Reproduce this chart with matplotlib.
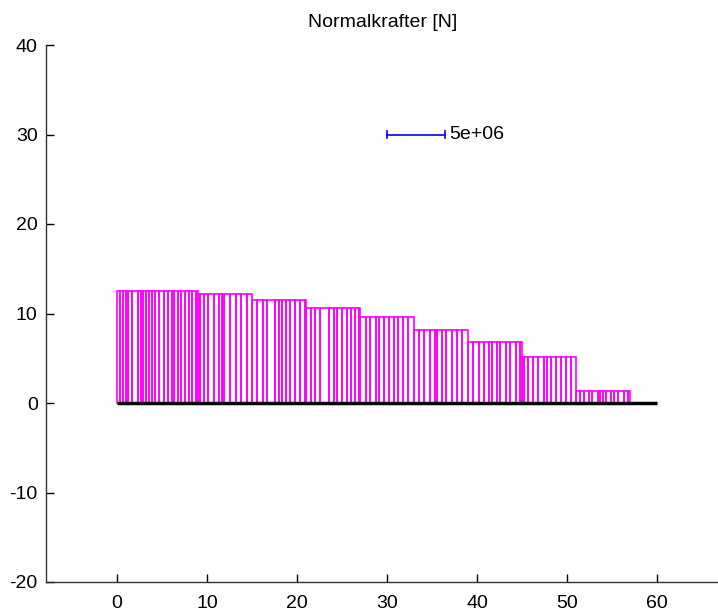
import matplotlib
matplotlib.use("Agg")
import matplotlib.pyplot as plt
import numpy as np

# Node positions along the member
nodes = [0.0, 0.33, 0.63, 0.96, 1.26, 1.63, 2.34, 2.63, 2.86, 3.23, 3.56, 3.86, 4.16,
         4.71, 5.16, 5.64, 6.08, 6.34, 6.79, 7.12, 7.57, 7.94, 8.27, 8.72, 9.0,
         9.16, 9.61, 10.1, 10.8, 11.28, 11.65, 11.91, 12.5, 13.2, 13.77, 14.44, 15.0,
         15.55, 16.18, 16.7, 17.5, 17.96, 18.33, 18.78, 19.26, 19.74, 20.37, 20.85, 21.0,
         21.56, 22.04, 22.6, 23.57, 24.08, 24.45, 25.01, 25.57, 25.94, 26.42, 26.87, 27.0,
         27.61, 28.09, 28.72, 29.09, 29.65, 30.2, 30.76, 31.25, 31.76, 32.36, 33.0,
         33.54, 34.1, 34.77, 35.33, 35.59, 36.15, 36.51, 37.26, 37.81, 38.37, 39.0,
         39.55, 40.22, 40.78, 41.33, 41.71, 42.27, 42.56, 43.19, 43.67, 44.3, 44.79, 45.0,
         45.23, 45.68, 46.27, 46.79, 47.46, 47.76, 48.2, 48.76, 49.32, 49.87, 50.43, 51.0,
         51.47, 51.92, 52.4, 52.77, 53.4, 53.7, 53.96, 54.33, 54.88, 55.25, 55.7, 56.29,
         56.74, 57.0]

# Segment boundaries and (scaled) normal force level per segment
seg_edges = [0, 9, 15, 21, 27, 33, 39, 45, 51, 57]
seg_levels = [12.55, 12.2, 11.47, 10.65, 9.6, 8.2, 6.8, 5.17, 1.31]

member_x = [0, 60]
member_y = [0, 0]

scale_x = [30, 36.4]
scale_y = [30, 30]
scale_label = "5e+06"

title = "Normalkrafter [N]"
xticks = [0, 10, 20, 30, 40, 50, 60]
yticks = [-20, -10, 0, 10, 20, 30, 40]

plt.rcParams['font.family'] = ['Liberation Sans', 'DejaVu Sans']
plt.rcParams['axes.unicode_minus'] = False

fig = plt.figure(figsize=(7.18, 6.13), dpi=100)
ax = fig.add_axes([46/718, 31/613, 674/718, 537/613])

magenta = (1.0, 0.0, 1.0)
for x1, x2 in zip(nodes[:-1], nodes[1:]):
    mid = 0.5 * (x1 + x2)
    k = int(np.searchsorted(seg_edges, mid) - 1)
    k = min(max(k, 0), len(seg_levels) - 1)
    n = seg_levels[k]
    ax.plot([x1, x1, x2, x2], [0, n, n, 0], color=magenta, lw=1.2, solid_joinstyle='miter')

ax.plot(member_x, member_y, color='black', lw=2.5, solid_capstyle='butt')

ax.plot(scale_x, scale_y, color=(0, 0, 1), lw=1.2)
for sx in scale_x:
    ax.plot([sx, sx], [29.6, 30.4], color=(0, 0, 1), lw=1.2)
ax.text(scale_x[1] + 0.5, 30, scale_label, fontsize=14, va='center', ha='left')

ax.set_xlim(-7.9, 67)
ax.set_ylim(-20, 40)
ax.set_xticks(xticks)
ax.set_yticks(yticks)
ax.tick_params(direction='in', length=6, width=1, labelsize=14)
ax.tick_params(axis='x', pad=9)
ax.tick_params(axis='y', pad=6)
for s in ['top', 'right']:
    ax.spines[s].set_visible(False)
for s in ['left', 'bottom']:
    ax.spines[s].set_color('#333333')
    ax.spines[s].set_linewidth(1.0)

ax.set_title(title, fontsize=14, pad=13)

fig.savefig("out.png", dpi=100)
